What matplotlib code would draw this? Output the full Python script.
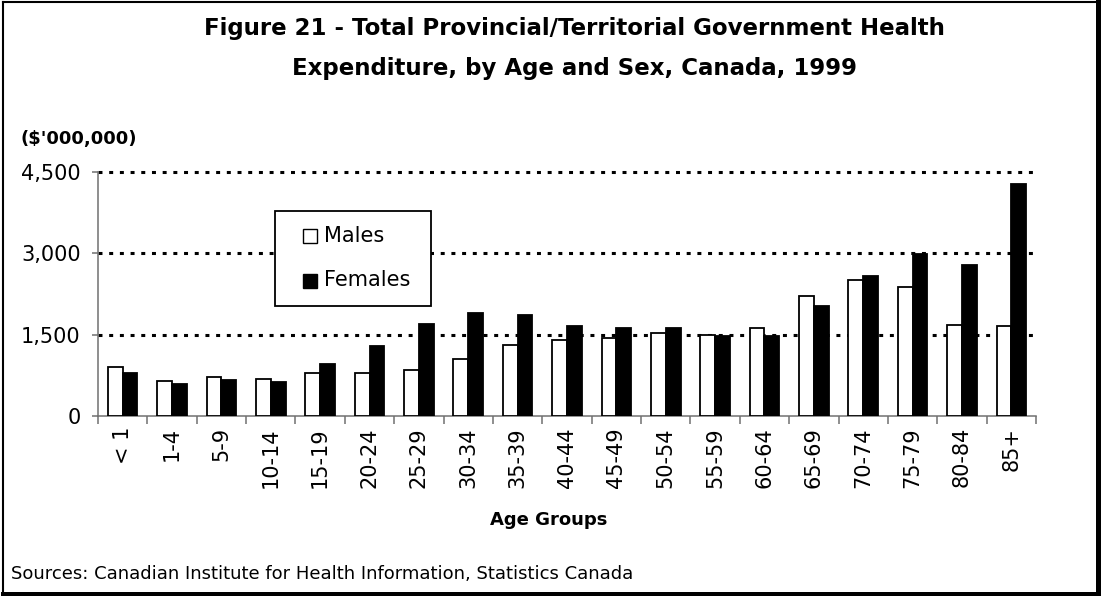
import numpy as np
import matplotlib
matplotlib.use("Agg")
import matplotlib.pyplot as plt
from matplotlib.lines import Line2D
from matplotlib.patches import Rectangle

# data ($'000,000)
age_groups = ["< 1", "1-4", "5-9", "10-14", "15-19", "20-24", "25-29", "30-34", "35-39",
              "40-44", "45-49", "50-54", "55-59", "60-64", "65-69", "70-74", "75-79",
              "80-84", "85+"]
males = [906, 653, 721, 690, 783, 783, 851, 1042, 1301,
         1399, 1430, 1529, 1492, 1621, 2213, 2503, 2373, 1683, 1652]
females = [783, 592, 660, 629, 949, 1282, 1701, 1899, 1868,
           1664, 1627, 1627, 1473, 1473, 2022, 2577, 2977, 2774, 4272]
series_names = ["Males", "Females"]
series_colors = ["white", "black"]
yticks = [0, 1500, 3000, 4500]

plt.rcParams['font.family'] = ['DejaVu Sans']

W, H = 1101, 596
fig = plt.figure(figsize=(W / 100, H / 100), dpi=100)
# axes box in pixels: x 98..1036, y 171.7..416
ax = fig.add_axes([98/W, (H - 416)/H, 938/W, 244.3/H])

x = np.arange(len(age_groups))
w = 0.30
ax.bar(x - w/2, males, w, color=series_colors[0], edgecolor="black", linewidth=1.3, zorder=3)
ax.bar(x + w/2, females, w, color=series_colors[1], edgecolor="black", linewidth=1.3, zorder=3)

ax.set_xlim(-0.5, len(age_groups) - 0.5)
ax.set_ylim(0, 4500)
ax.set_yticks(yticks)
ax.set_yticklabels(["{:,}".format(v) for v in yticks], fontsize=15)
for v in yticks[1:]:
    ax.axhline(v, color="black", linestyle=(0, (1.3, 2.2)), linewidth=2.2, zorder=1, clip_on=False)

# boundaries get ticks, centres get labels
ax.set_xticks(np.arange(-0.5, len(age_groups), 1.0))
ax.set_xticklabels([])
ax.set_xticks(x, minor=True)
ax.set_xticklabels(age_groups, minor=True, rotation=90, fontsize=15)
ax.tick_params(axis="x", which="major", length=6, width=1.1, color="#707070", direction="out")
ax.tick_params(axis="x", which="minor", length=0, pad=8)
ax.tick_params(axis="y", length=4.5, width=1.1, color="#707070", pad=8)

for s in ["top", "right"]:
    ax.spines[s].set_visible(False)
for s in ["left", "bottom"]:
    ax.spines[s].set_color("#707070")
    ax.spines[s].set_linewidth(1.1)

# legend box drawn by hand so the padding matches (pixel positions)
def px(xp, yp):
    return xp / W, 1 - yp / H

fig.add_artist(Rectangle(px(275, 306), 156/W, 95/H, facecolor="white",
                         edgecolor="black", linewidth=1.3, zorder=5))
for i, (name, col) in enumerate(zip(series_names, series_colors)):
    cy = 235.5 + 45 * i
    fig.add_artist(Rectangle(px(303, cy + 7), 14/W, 14/H, facecolor=col,
                             edgecolor="black", linewidth=1.0, zorder=6))
    fig.text(324/W, 1 - cy/H, name, ha="left", va="center", fontsize=15, zorder=6)

fig.text(574/W, 1 - 29/H, "Figure 21 - Total Provincial/Territorial Government Health",
         ha="center", va="center", fontsize=16.5, fontweight="bold")
fig.text(574/W, 1 - 68/H, "Expenditure, by Age and Sex, Canada, 1999",
         ha="center", va="center", fontsize=16.5, fontweight="bold")
fig.text(20/W, 1 - 139/H, "($'000,000)", ha="left", va="center", fontsize=13, fontweight="bold")
fig.text(549/W, 1 - 520/H, "Age Groups", ha="center", va="center", fontsize=13, fontweight="bold")
fig.text(11/W, 1 - 574/H, "Sources: Canadian Institute for Health Information, Statistics Canada",
         ha="left", va="center", fontsize=13)

# outer frame with heavier bottom/right edge
fig.add_artist(Line2D([3/W, 1097/W], [1 - 2/H, 1 - 2/H], color="black", linewidth=1.5))
fig.add_artist(Line2D([3/W, 3/W], [1 - 2/H, 1 - 591/H], color="black", linewidth=1.5))
fig.add_artist(Line2D([3/W, 1099/W], [1 - 593.5/H, 1 - 593.5/H], color="black", linewidth=3.6))
fig.add_artist(Line2D([1097.5/W, 1097.5/W], [1 - 2/H, 1 - 595/H], color="black", linewidth=3.6))

fig.savefig("out.png", dpi=100)
